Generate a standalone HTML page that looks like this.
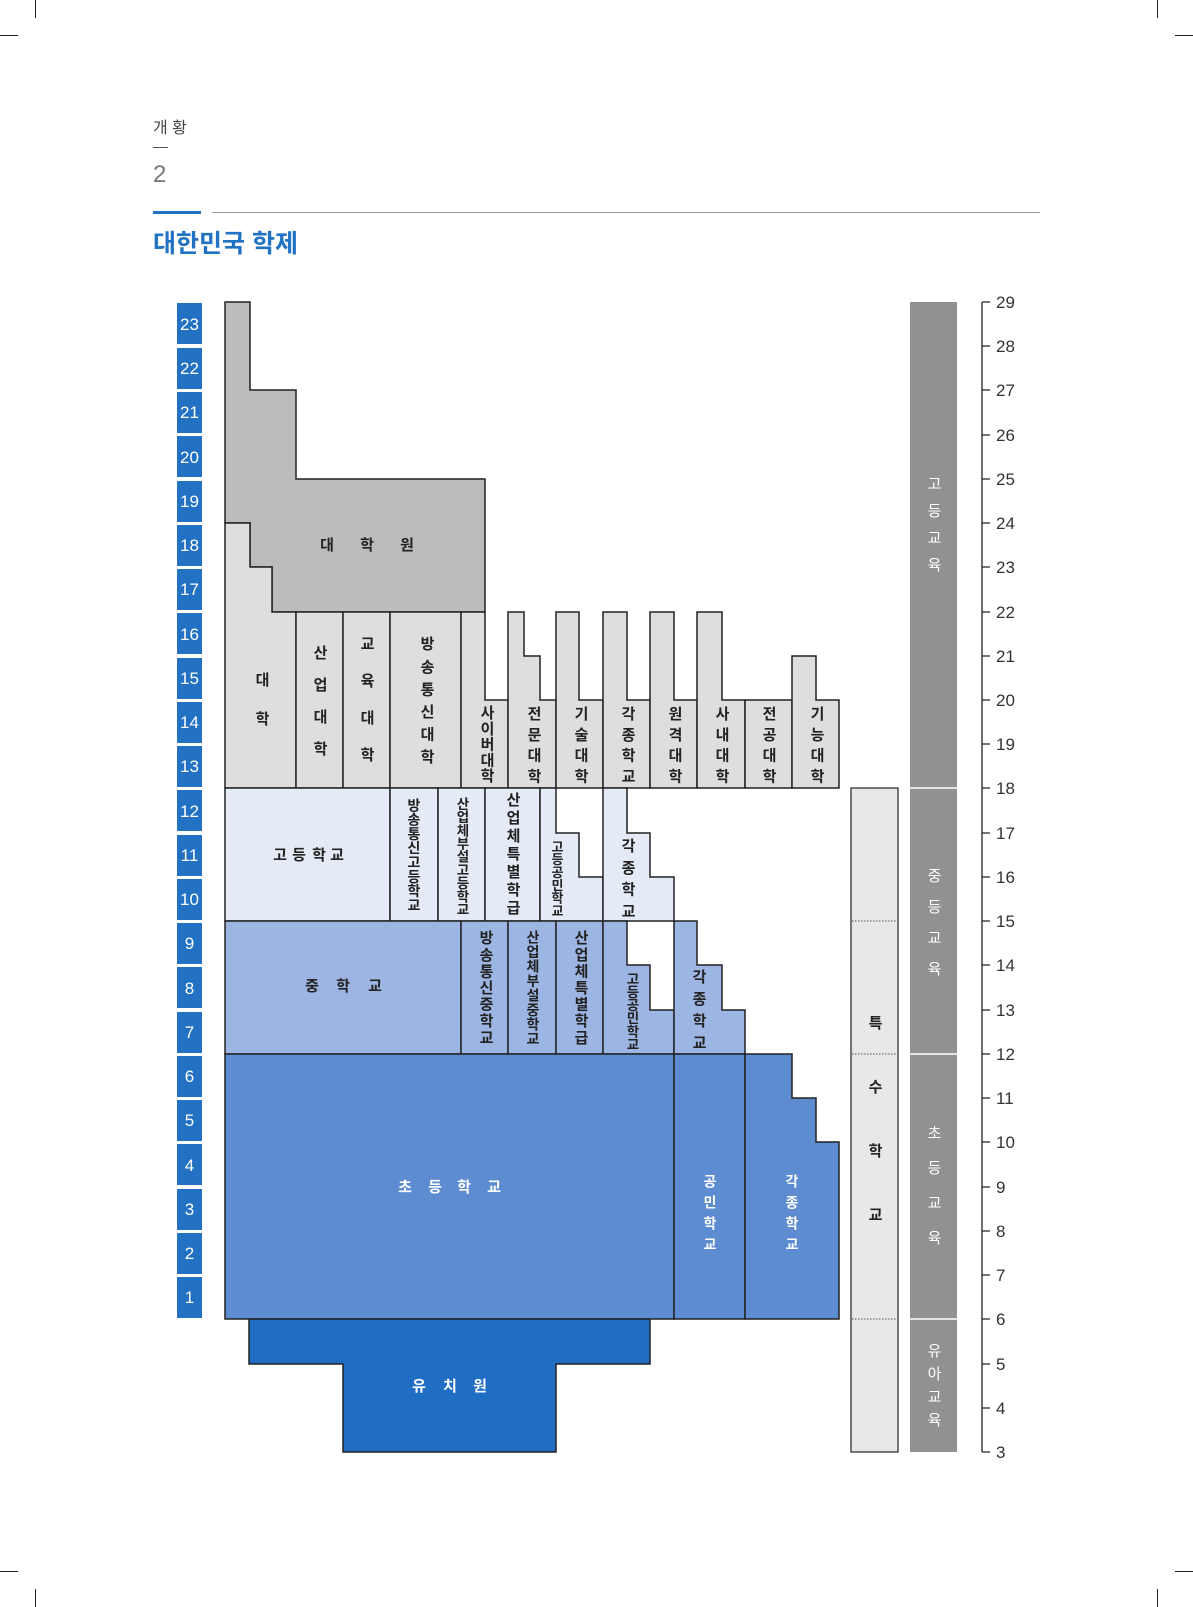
<!DOCTYPE html>
<html><head><meta charset="utf-8">
<style>
html,body{margin:0;padding:0;background:#fff;}
body{width:1193px;height:1607px;position:relative;overflow:hidden;font-family:"Liberation Sans","Noto Sans CJK KR",sans-serif;}
.v{position:absolute;writing-mode:vertical-rl;text-orientation:upright;font-weight:bold;font-size:15px;line-height:20px;width:20px;color:#222;font-family:"Liberation Sans","Noto Sans CJK KR",sans-serif;white-space:nowrap;}
.w{color:#fff;}
.n{font-weight:normal;}
</style></head><body>
<svg width="1193" height="1607" style="position:absolute;left:0;top:0" font-family="Liberation Sans, Noto Sans CJK KR, sans-serif">
<g stroke="#222" stroke-width="1">
<line x1="35.5" y1="0" x2="35.5" y2="18"/><line x1="0" y1="35.5" x2="18" y2="35.5"/>
<line x1="1157.5" y1="0" x2="1157.5" y2="18"/><line x1="1175" y1="35.5" x2="1193" y2="35.5"/>
<line x1="35.5" y1="1589" x2="35.5" y2="1607"/><line x1="0" y1="1571.5" x2="18" y2="1571.5"/>
<line x1="1157.5" y1="1589" x2="1157.5" y2="1607"/><line x1="1175" y1="1571.5" x2="1193" y2="1571.5"/>
</g>
<text x="153" y="133" font-size="16" fill="#444">개 황</text>
<line x1="153" y1="147.5" x2="168" y2="147.5" stroke="#555" stroke-width="1"/>
<text x="153" y="182" font-size="24" fill="#777">2</text>
<rect x="153" y="211" width="48" height="3" fill="#2272c3"/>
<rect x="212" y="212" width="828" height="1" fill="#999"/>
<text x="153" y="252" font-size="25" font-weight="bold" fill="#2272c3">대한민국 학제</text>

<g fill="#2271c3">
<rect x="177" y="303" width="25" height="41"/><rect x="177" y="348" width="25" height="41"/>
<rect x="177" y="392" width="25" height="41"/><rect x="177" y="436" width="25" height="41"/>
<rect x="177" y="481" width="25" height="41"/><rect x="177" y="525" width="25" height="41"/>
<rect x="177" y="569" width="25" height="41"/><rect x="177" y="613" width="25" height="41"/>
<rect x="177" y="658" width="25" height="41"/><rect x="177" y="702" width="25" height="41"/>
<rect x="177" y="746" width="25" height="41"/><rect x="177" y="790" width="25" height="41"/>
<rect x="177" y="835" width="25" height="41"/><rect x="177" y="879" width="25" height="41"/>
<rect x="177" y="923" width="25" height="41"/><rect x="177" y="967" width="25" height="41"/>
<rect x="177" y="1012" width="25" height="41"/><rect x="177" y="1056" width="25" height="41"/>
<rect x="177" y="1100" width="25" height="41"/><rect x="177" y="1144" width="25" height="41"/>
<rect x="177" y="1189" width="25" height="41"/><rect x="177" y="1233" width="25" height="41"/>
<rect x="177" y="1277" width="25" height="41"/>
</g>
<g fill="#fff" font-size="17" text-anchor="middle">
<text x="189.5" y="330">23</text><text x="189.5" y="374">22</text><text x="189.5" y="418">21</text>
<text x="189.5" y="463">20</text><text x="189.5" y="507">19</text><text x="189.5" y="551">18</text>
<text x="189.5" y="595">17</text><text x="189.5" y="640">16</text><text x="189.5" y="684">15</text>
<text x="189.5" y="728">14</text><text x="189.5" y="772">13</text><text x="189.5" y="817">12</text>
<text x="189.5" y="861">11</text><text x="189.5" y="905">10</text><text x="189.5" y="949">9</text>
<text x="189.5" y="994">8</text><text x="189.5" y="1038">7</text><text x="189.5" y="1082">6</text>
<text x="189.5" y="1126">5</text><text x="189.5" y="1171">4</text><text x="189.5" y="1215">3</text>
<text x="189.5" y="1259">2</text><text x="189.5" y="1303">1</text>
</g>

<g stroke="#222" stroke-width="1.5" stroke-linejoin="miter">
<path fill="#bcbcbc" d="M225,302 H250 V390 H296 V479 H485 V612 H272 V567 H250 V523 H225 Z"/>
<path fill="#dedede" d="M225,523 H250 V567 H272 V612 H296 V788 H225 Z"/>
<rect fill="#dedede" x="296" y="612" width="47" height="176"/>
<rect fill="#dedede" x="343" y="612" width="47" height="176"/>
<rect fill="#dedede" x="390" y="612" width="71" height="176"/>
<path fill="#dedede" d="M461,612 H485 V700 H508 V788 H461 Z"/>
<path fill="#dedede" d="M508,612 H524 V656 H540 V700 H556 V788 H508 Z"/>
<path fill="#dedede" d="M556,612 H579 V700 H603 V788 H556 Z"/>
<path fill="#dedede" d="M603,612 H627 V700 H650 V788 H603 Z"/>
<path fill="#dedede" d="M650,612 H674 V700 H697 V788 H650 Z"/>
<path fill="#dedede" d="M697,612 H722 V700 H745 V788 H697 Z"/>
<rect fill="#dedede" x="745" y="700" width="47" height="88"/>
<path fill="#dedede" d="M792,656 H816 V700 H839 V788 H792 Z"/>
<rect fill="#e4eaf6" x="225" y="788" width="165" height="133"/>
<rect fill="#e4eaf6" x="390" y="788" width="48" height="133"/>
<rect fill="#e4eaf6" x="438" y="788" width="47" height="133"/>
<rect fill="#e4eaf6" x="485" y="788" width="55" height="133"/>
<path fill="#e4eaf6" d="M540,788 H556 V833 H579 V877 H603 V921 H540 Z"/>
<path fill="#e4eaf6" d="M603,788 H627 V833 H650 V877 H674 V921 H603 Z"/>
<rect fill="#9db5e3" x="225" y="921" width="236" height="133"/>
<rect fill="#9db5e3" x="461" y="921" width="47" height="133"/>
<rect fill="#9db5e3" x="508" y="921" width="48" height="133"/>
<rect fill="#9db5e3" x="556" y="921" width="47" height="133"/>
<path fill="#9db5e3" d="M603,921 H627 V965 H650 V1010 H674 V1054 H603 Z"/>
<path fill="#9db5e3" d="M674,921 H697 V965 H722 V1010 H745 V1054 H674 Z"/>
<rect fill="#5d8dd0" x="225" y="1054" width="449" height="265"/>
<rect fill="#5d8dd0" x="674" y="1054" width="71" height="265"/>
<path fill="#5d8dd0" d="M745,1054 H792 V1098 H816 V1142 H839 V1319 H745 Z"/>
<path fill="#1f6ec4" d="M249,1319 H650 V1364 H556 V1452 H343 V1364 H249 Z"/>
<rect fill="#e8e8e8" x="851" y="788" width="47" height="664" stroke-width="1.2"/>
</g>
<g stroke="#555" stroke-width="1" stroke-dasharray="1.5,1.5">
<line x1="852" y1="921" x2="897" y2="921"/><line x1="852" y1="1054" x2="897" y2="1054"/><line x1="852" y1="1319" x2="897" y2="1319"/>
</g>
<rect x="910" y="302" width="47" height="1150" fill="#929091"/>
<g stroke="#fff" stroke-width="1.5">
<line x1="910" y1="788" x2="957" y2="788"/><line x1="910" y1="1054" x2="957" y2="1054"/><line x1="910" y1="1319" x2="957" y2="1319"/>
</g>
<g stroke="#222" stroke-width="1.3">
<line x1="982" y1="302" x2="982" y2="1452"/>
<path d="M982,302H990M982,346H990M982,390H990M982,435H990M982,479H990M982,523H990M982,567H990M982,612H990M982,656H990M982,700H990M982,744H990M982,788H990M982,833H990M982,877H990M982,921H990M982,965H990M982,1010H990M982,1054H990M982,1098H990M982,1142H990M982,1187H990M982,1231H990M982,1275H990M982,1319H990M982,1364H990M982,1408H990M982,1452H990"/>
</g>
<g fill="#333" font-size="17">
<text x="996" y="308">29</text><text x="996" y="352">28</text><text x="996" y="396">27</text>
<text x="996" y="441">26</text><text x="996" y="485">25</text><text x="996" y="529">24</text>
<text x="996" y="573">23</text><text x="996" y="618">22</text><text x="996" y="662">21</text>
<text x="996" y="706">20</text><text x="996" y="750">19</text><text x="996" y="794">18</text>
<text x="996" y="839">17</text><text x="996" y="883">16</text><text x="996" y="927">15</text>
<text x="996" y="971">14</text><text x="996" y="1016">13</text><text x="996" y="1060">12</text>
<text x="996" y="1104">11</text><text x="996" y="1148">10</text><text x="996" y="1193">9</text>
<text x="996" y="1237">8</text><text x="996" y="1281">7</text><text x="996" y="1325">6</text>
<text x="996" y="1370">5</text><text x="996" y="1414">4</text><text x="996" y="1458">3</text>
</g>
<g font-size="15" font-weight="bold" text-anchor="middle">
<text x="327 367 407" y="550" fill="#222">대학원</text>
<text x="280 299 319 337" y="860" fill="#222">고등학교</text>
<text x="312 343 375" y="991" fill="#222">중학교</text>
<text x="405 435 464 494" y="1192" fill="#fff">초등학교</text>
<text x="419 450 480" y="1391" fill="#fff">유치원</text>
</g>
</svg>

<div class="v" style="left:251px;top:672px;letter-spacing:24px">대학</div>
<div class="v" style="left:309px;top:645px;letter-spacing:17px">산업대학</div>
<div class="v" style="left:356px;top:636px;letter-spacing:22px">교육대학</div>
<div class="v" style="left:416px;top:636px;letter-spacing:7.6px">방송통신대학</div>
<div class="v" style="left:476px;top:705px;letter-spacing:0.7px">사이버대학</div>
<div class="v" style="left:523px;top:706px;letter-spacing:5.7px">전문대학</div>
<div class="v" style="left:570px;top:706px;letter-spacing:5.7px">기술대학</div>
<div class="v" style="left:617px;top:706px;letter-spacing:5.7px">각종학교</div>
<div class="v" style="left:664px;top:706px;letter-spacing:5.7px">원격대학</div>
<div class="v" style="left:711px;top:706px;letter-spacing:5.7px">사내대학</div>
<div class="v" style="left:758px;top:706px;letter-spacing:5.7px">전공대학</div>
<div class="v" style="left:806px;top:706px;letter-spacing:5.7px">기능대학</div>

<div class="v" style="left:404px;top:798px;font-size:14px;letter-spacing:0.3px">방송통신고등학교</div>
<div class="v" style="left:451px;top:797px;font-size:13.5px;letter-spacing:-0.3px">산업체부설고등학교</div>
<div class="v" style="left:502px;top:792px;letter-spacing:3px">산업체특별학급</div>
<div class="v" style="left:546px;top:840px;font-size:13px;letter-spacing:-0.2px">고등공민학교</div>
<div class="v" style="left:617px;top:838px;letter-spacing:6.7px">각종학교</div>

<div class="v" style="left:475px;top:930px;letter-spacing:1.6px">방송통신중학교</div>
<div class="v" style="left:523px;top:930px;font-size:14px;letter-spacing:0.5px">산업체부설중학교</div>
<div class="v" style="left:570px;top:930px;letter-spacing:1.6px">산업체특별학급</div>
<div class="v" style="left:621px;top:972px;font-size:13.5px;letter-spacing:-0.4px">고등공민학교</div>
<div class="v" style="left:688px;top:969px;letter-spacing:7px">각종학교</div>

<div class="v w" style="left:700px;top:1174px;font-size:14px;letter-spacing:7px">공민학교</div>
<div class="v w" style="left:782px;top:1174px;font-size:14px;letter-spacing:7px">각종학교</div>

<div class="v" style="left:864px;top:1015px;letter-spacing:49px">특수학교</div>

<div class="v w n" style="left:923px;top:476px;font-size:15px;letter-spacing:12px">고등교육</div>
<div class="v w n" style="left:923px;top:868px;font-size:15px;letter-spacing:16px">중등교육</div>
<div class="v w n" style="left:923px;top:1125px;font-size:15px;letter-spacing:20px">초등교육</div>
<div class="v w n" style="left:923px;top:1343px;font-size:15px;letter-spacing:8px">유아교육</div>
</body></html>
